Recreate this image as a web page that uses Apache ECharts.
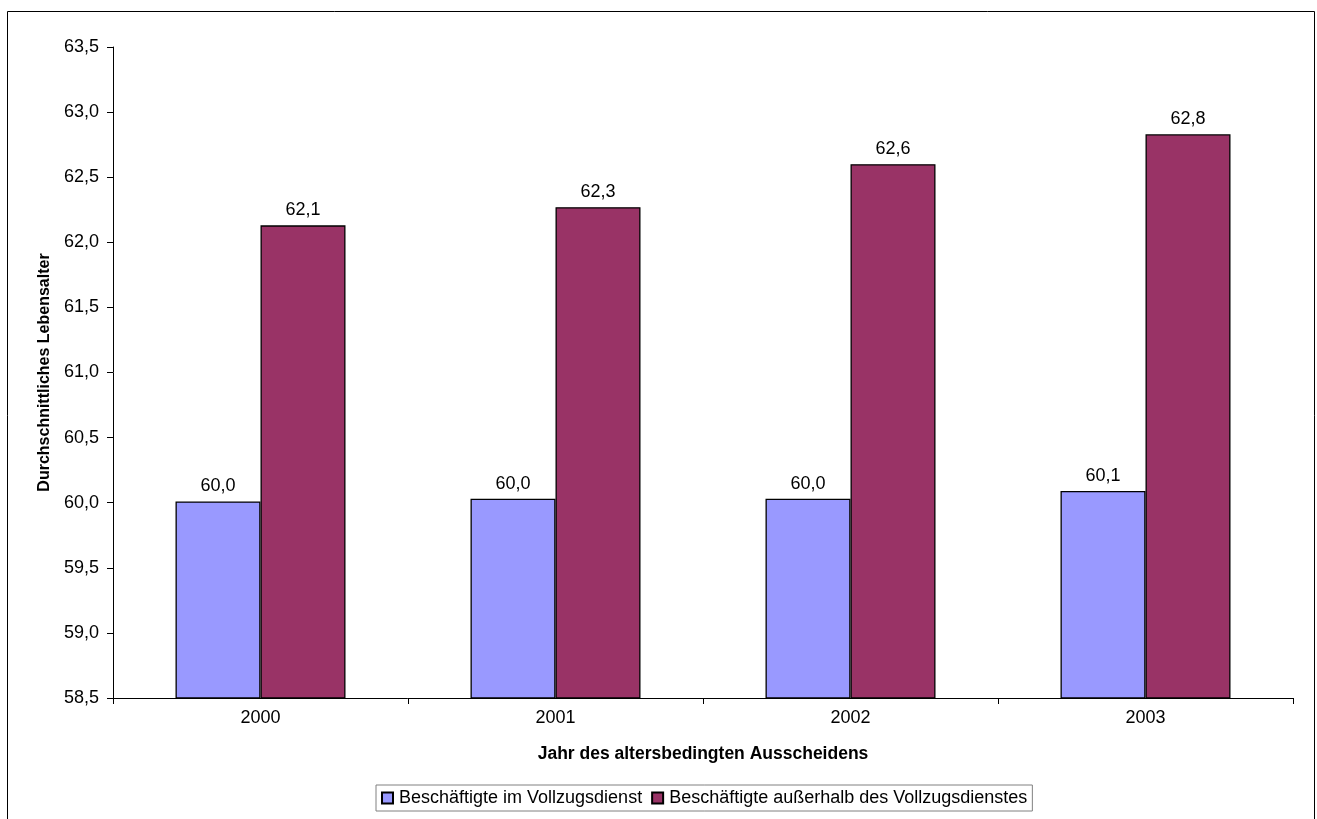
<!DOCTYPE html>
<html>
<head>
<meta charset="utf-8">
<script src="https://cdn.jsdelivr.net/npm/echarts@6/dist/echarts.min.js"></script>
<style>
  html, body { margin: 0; padding: 0; background: #fff; }
  #chart { width: 1317px; height: 819px; }
</style>
</head>
<body>
<div id="chart"></div>
<script>
// Retirement years and average age at retirement per staff group
const years = ['2000', '2001', '2002', '2003'];
const vollzugsdienst = [60.01, 60.03, 60.03, 60.09];
const ausserhalb = [62.13, 62.27, 62.60, 62.83];
const seriesNames = ['Beschäftigte im Vollzugsdienst', 'Beschäftigte außerhalb des Vollzugsdienstes'];

const FONT = '"Liberation Sans", Arial, sans-serif';
const fmt = v => Number(v).toFixed(1).replace('.', ',');

const chart = echarts.init(document.getElementById('chart'));

const barLabel = {
  show: true,
  position: 'top',
  distance: 6,
  color: '#000',
  fontSize: 18,
  fontFamily: FONT,
  formatter: p => fmt(p.value)
};

chart.setOption({
  animation: false,
  backgroundColor: '#fff',
  graphic: [{
    type: 'rect',
    shape: { x: 7.5, y: 11.5, width: 1307, height: 900 },
    style: { fill: 'none', stroke: '#000', lineWidth: 1 },
    silent: true
  }],
  grid: { left: 113, right: 24, top: 47, bottom: 121 },
  legend: {
    data: seriesNames,
    left: 376,
    top: 785,
    padding: [4, 5, 4, 5],
    itemWidth: 11,
    itemHeight: 11,
    itemGap: 9,
    icon: 'rect',
    borderColor: '#808080',
    borderWidth: 1,
    textStyle: { color: '#000', fontSize: 18, fontFamily: FONT, padding: [0, 0, 0, 1] }
  },
  xAxis: {
    type: 'category',
    data: years,
    name: 'Jahr des altersbedingten Ausscheidens',
    nameLocation: 'middle',
    nameGap: 47,
    nameTextStyle: { color: '#000', fontSize: 17.5, fontWeight: 'bold', fontFamily: FONT },
    axisLine: { lineStyle: { color: '#000', width: 1 } },
    axisTick: { show: true, length: 6, lineStyle: { color: '#000' } },
    axisLabel: { color: '#000', fontSize: 18, fontFamily: FONT, margin: 11 }
  },
  yAxis: {
    type: 'value',
    min: 58.5,
    max: 63.5,
    interval: 0.5,
    name: 'Durchschnittliches Lebensalter',
    nameLocation: 'middle',
    nameGap: 59,
    nameTextStyle: { color: '#000', fontSize: 16, fontWeight: 'bold', fontFamily: FONT },
    axisLine: { show: true, lineStyle: { color: '#000', width: 1 } },
    axisTick: { show: true, length: 6, lineStyle: { color: '#000' } },
    splitLine: { show: false },
    axisLabel: { color: '#000', fontSize: 18, fontFamily: FONT, margin: 14, formatter: v => fmt(v) }
  },
  series: [
    {
      name: seriesNames[0],
      type: 'bar',
      data: vollzugsdienst,
      barWidth: 85,
      barGap: '0%',
      itemStyle: { color: '#9999ff', borderColor: '#000', borderWidth: 1.3 },
      label: barLabel
    },
    {
      name: seriesNames[1],
      type: 'bar',
      data: ausserhalb,
      barWidth: 85,
      barGap: '0%',
      itemStyle: { color: '#993366', borderColor: '#000', borderWidth: 1.3 },
      label: barLabel
    }
  ]
});
</script>
</body>
</html>
